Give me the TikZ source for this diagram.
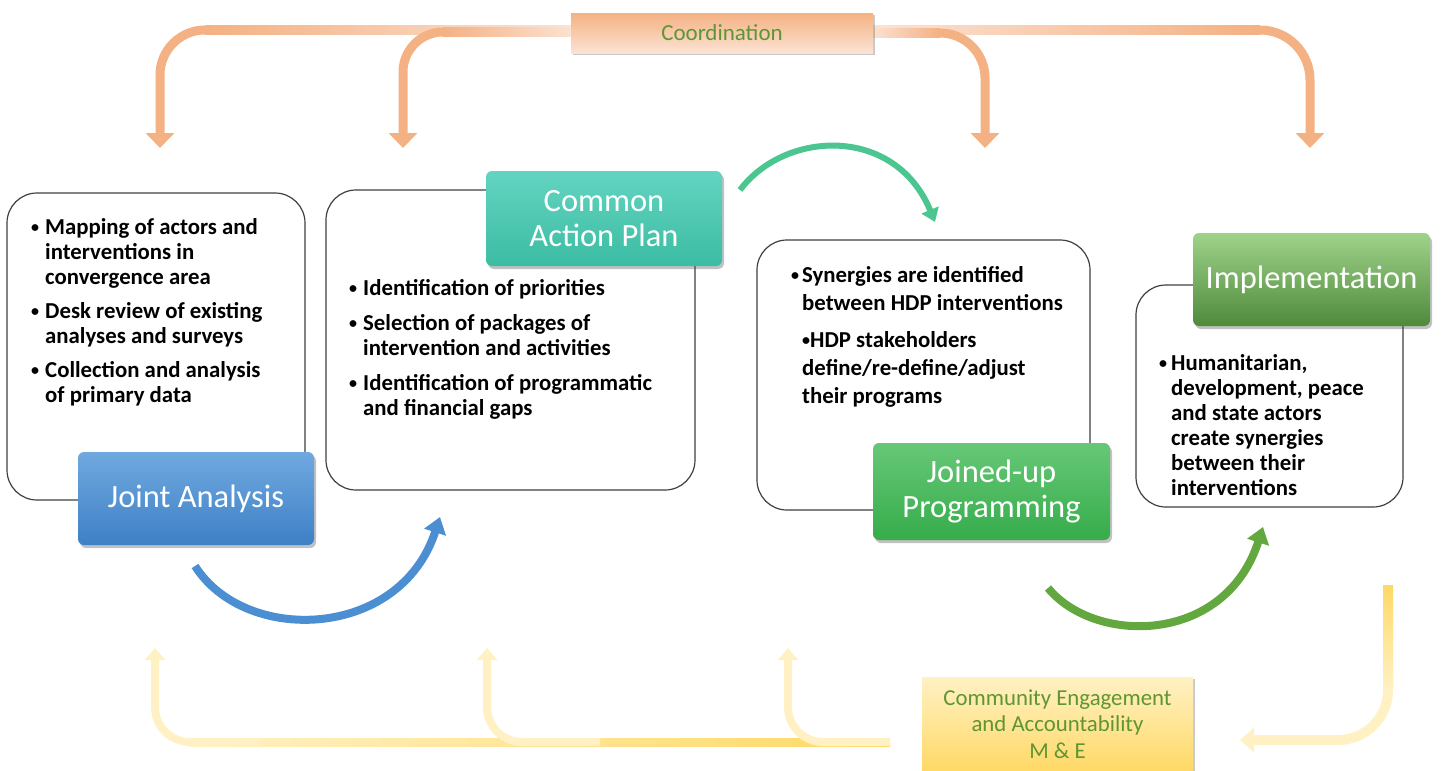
\documentclass[tikz,border=0pt]{standalone}
\usepackage{fontspec}
\setmainfont{Carlito}
\usetikzlibrary{arrows.meta,shadows,calc}
\definecolor{orA}{HTML}{F4B183}
\definecolor{orL}{HTML}{FBE3D4}
\definecolor{ylA}{HTML}{FFF1C4}
\definecolor{ylG}{HTML}{FFD966}
\definecolor{txtG}{HTML}{5E9535}
\definecolor{blueT}{HTML}{70A9DF}
\definecolor{blueB}{HTML}{3E80C6}
\definecolor{tealT}{HTML}{63D4C1}
\definecolor{tealB}{HTML}{3CBCA3}
\definecolor{grT}{HTML}{66C877}
\definecolor{grB}{HTML}{36AC4B}
\definecolor{imT}{HTML}{9FD38A}
\definecolor{imM}{HTML}{1BA84A}
\definecolor{imB}{HTML}{4F8A3B}
\definecolor{arcTeal}{HTML}{4CC690}
\definecolor{arcBlue}{HTML}{4B8ED2}
\definecolor{arcGreen}{HTML}{62A83E}
\definecolor{boxLine}{HTML}{404040}
\newcommand\myBody{\fontsize{22.8}{25}\selectfont\bfseries}
\newcommand\myBodyB{\fontsize{22.8}{28}\selectfont\bfseries}
\newcommand\myTitle{\fontsize{32.5}{35}\selectfont}
\newcommand\myLabel{\fontsize{22.8}{26.5}\selectfont}
\newcommand\myCoord{\fontsize{23}{26}\selectfont}
\newcommand\mybul{\raisebox{1.5pt}{\fontsize{16}{16}\selectfont •}}
\begin{document}
\begin{tikzpicture}[x=1pt,y=-1pt,
  wbox/.style={draw=boxLine, line width=1.2pt, fill=white, rounded corners=30pt, inner sep=0pt},
  tbox/.style={rounded corners=6pt, inner sep=0pt, text=white, font=\myTitle, align=center,
     drop shadow={shadow xshift=2pt, shadow yshift=-3pt, opacity=.35, fill=black!70}},
  lbox/.style={inner sep=0pt, text=txtG, font=\myLabel, align=center,
     drop shadow={shadow xshift=2pt, shadow yshift=-2pt, opacity=.3, fill=black!70}},
  bodytxt/.style={anchor=base west, inner sep=0pt, font=\myBody, align=left},
  orarrow/.style={draw=orA, line width=9pt, -{Triangle[width=28pt,length=15pt]}},
  ylarrow/.style={draw=ylA, line width=10pt, -{Triangle[width=24pt,length=14pt]}},
  ylbranch/.style={draw=ylA, line width=8pt, -{Triangle[width=20pt,length=12pt]}, rounded corners=35pt},
]
\useasboundingbox (0,0) rectangle (1441,771);

% ---------- named coordinates for arrow ends ----------
\coordinate (o1) at (160,148);
\coordinate (o2) at (403,148);
\coordinate (o3) at (985,148);
\coordinate (o4) at (1310,148);
\coordinate (y1) at (155,648);
\coordinate (y2) at (487,648);
\coordinate (y3) at (788,648);
\coordinate (yr) at (1240,740);
\coordinate (yrs) at (1388,585);
\coordinate (yh) at (890,742);
\coordinate (t2) at (600,742);
\coordinate (t1) at (260,742);

% ---------- top orange arrows ----------
\draw[orarrow, rounded corners=45pt] (575,30) -| (o1);
\shade[left color=orA, right color=orL] (205,25.5) rectangle (575,34.5);
\draw[orarrow, rounded corners=40pt] (575,32) -| (o2);
\shade[left color=orA, right color=orL] (443,27.5) rectangle (575,36.5);
\draw[orarrow, rounded corners=50pt] (870,30) -| (o4);
\shade[left color=orL, right color=orA] (870,25.5) rectangle (1260,34.5);
\draw[orarrow, rounded corners=45pt] (870,33) -| (o3);
\shade[left color=orL, right color=orA] (870,28.5) rectangle (940,37.5);

% ---------- coordination box ----------
\node[lbox, font=\myCoord, top color=orA, middle color=orL!80!orA, bottom color=orL,
      minimum width=302pt, minimum height=40pt] (coord) at (722,33) {Coordination};

% ---------- bottom yellow arrows ----------
\draw[ylarrow, rounded corners=50pt] (yrs) |- (yr);
\shade[top color=ylG, bottom color=ylA] (1383,585) rectangle (1393,690);
\shade[left color=ylA, right color=ylG] (190,738) rectangle (yh |- 0,746);
\draw[ylbranch] (t1) -| (y1);
\draw[ylbranch] (t2) -| (y2);
\draw[ylbranch] (yh) -| (y3);

% ---------- white content boxes ----------
\node[wbox, minimum width=298pt, minimum height=307pt] (b1) at (156,346.5) {};
\node[wbox, minimum width=369pt, minimum height=300pt] (b2) at (510.5,340) {};
\node[wbox, minimum width=333pt, minimum height=270pt] (b3) at (923.5,375) {};
\node[wbox, minimum width=267pt, minimum height=222pt] (b4) at (1269.5,396) {};

% ---------- box texts ----------
\node[bodytxt] (x1) at (31,234) {\begin{tabular}[t]{@{}p{14pt}@{}l@{}}
\mybul&Mapping of actors and\\ &interventions in\\ &convergence area\\[9pt]
\mybul&Desk review of existing\\ &analyses and surveys\\[9pt]
\mybul&Collection and analysis\\ &of primary data\end{tabular}};
\node[bodytxt] (x2) at (349,295) {\begin{tabular}[t]{@{}p{14pt}@{}l@{}}
\mybul&Identification of priorities\\[10pt]
\mybul&Selection of packages of\\ &intervention and activities\\[10pt]
\mybul&Identification of programmatic\\ &and financial gaps\end{tabular}};
\node[bodytxt, font=\myBodyB] (x3) at (791,282) {\begin{tabular}[t]{@{}p{11pt}@{}l@{}}
\mybul&Synergies are identified\\ &between HDP interventions\\[9pt]
&\mybul HDP stakeholders\\ &define/re-define/adjust\\ &their programs\end{tabular}};
\node[bodytxt] (x4) at (1159,370) {\begin{tabular}[t]{@{}p{12pt}@{}l@{}}
\mybul&Humanitarian,\\ &development, peace\\ &and state actors\\ &create synergies\\ &between their\\ &interventions\end{tabular}};

% ---------- title boxes ----------
\node[tbox, top color=blueT, bottom color=blueB, minimum width=236pt, minimum height=93pt] (ja) at (196,498.5) {Joint Analysis};
\node[tbox, top color=tealT, bottom color=tealB, minimum width=236pt, minimum height=95pt] (cap) at (604,218.5) {Common\\Action Plan};
\node[tbox, top color=grT, bottom color=grB, minimum width=237pt, minimum height=97pt] (jp) at (991.5,491.5) {Joined-up\\Programming};
\node[tbox, top color=imT, middle color=imM, bottom color=imB, minimum width=237pt, minimum height=93pt] (im) at (1311.5,279.5) {Implementation};

% ---------- community box ----------
\node[lbox, top color=ylA, bottom color=ylG, minimum width=271pt, minimum height=94pt] (comm) at (1057.5,724)
  {Community Engagement\\and Accountability\\M \& E};

% ---------- cycle arcs ----------
\coordinate (a1s) at (195,566); \coordinate (a1e) at (440,517);
\coordinate (a2s) at (740,190); \coordinate (a2e) at (935,222);
\coordinate (a3s) at (1048,588); \coordinate (a3e) at (1263,527);
\draw[arcBlue, line width=8pt, -{Triangle[width=22pt,length=16pt]}]
  (a1s) .. controls (245,645) and (400,640) .. (a1e);
\draw[arcTeal, line width=6pt, -{Triangle[width=18pt,length=13pt]}]
  (a2s) .. controls (785,130) and (895,125) .. (a2e);
\draw[arcGreen, line width=8pt, -{Triangle[width=22pt,length=16pt]}]
  (a3s) .. controls (1095,645) and (1225,645) .. (a3e);
\end{tikzpicture}
\end{document}
